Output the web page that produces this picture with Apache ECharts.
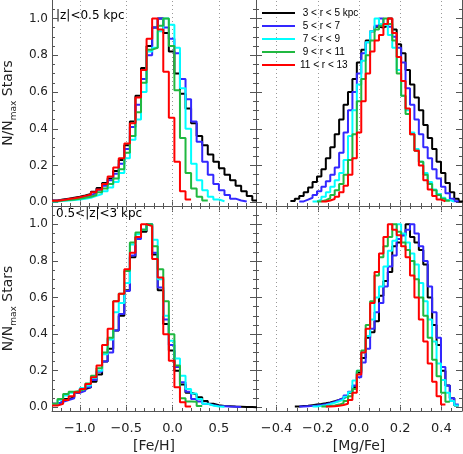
<!DOCTYPE html>
<html>
<head>
<meta charset="utf-8">
<script src="https://cdn.jsdelivr.net/npm/echarts@6/dist/echarts.min.js"></script>
<style>
html, body { margin: 0; padding: 0; background: #fff; }
#main { width: 463px; height: 454px; }
</style>
</head>
<body>
<div id="main"></div>
<script>
// radial bins (one line each)
var radiusNames = ['3 < r < 5 kpc', '5 < r < 7', '7 < r < 9', '9 < r < 11', '11 < r < 13'];
var zoneLabels = ['|z|<0.5 kpc', '0.5<|z|<3 kpc'];

// histogram bins: left edge of first bin and bin width
var fehBinStart = -1.3, fehBinWidth = 0.06;
var mgfeBinStart = -0.333, mgfeBinWidth = 0.0215;

// tick values
var fehTicks = [-1.0, -0.5, 0.0, 0.5];
var fehMinorTicks = [-1.2, -1.1, -1.0, -0.9, -0.8, -0.7, -0.6, -0.5, -0.4, -0.3, -0.2, -0.1, 0.0, 0.1, 0.2, 0.3, 0.4, 0.5, 0.6, 0.7, 0.8];
var mgfeTicks = [-0.4, -0.2, 0.0, 0.2, 0.4];
var mgfeMinorTicks = [-0.45, -0.4, -0.35, -0.3, -0.25, -0.2, -0.15, -0.1, -0.05, 0.0, 0.05, 0.1, 0.15, 0.2, 0.25, 0.3, 0.35, 0.4, 0.45];
var fracTicks = [0.0, 0.2, 0.4, 0.6, 0.8, 1.0];
var fracMinorTicks = [0.0, 0.05, 0.1, 0.15, 0.2, 0.25, 0.3, 0.35, 0.4, 0.45, 0.5, 0.55, 0.6, 0.65, 0.7, 0.75, 0.8, 0.85, 0.9, 0.95, 1.0, 1.05];

// [Fe/H], |z|<0.5 kpc
var fehNear3 = [0.01,0.015,0.02,0.025,0.03,0.037,0.045,0.058,0.078,0.105,0.13,0.17,0.23,0.31,0.44,0.58,0.73,0.85,0.95,1.0,0.92,0.82,0.70,0.59,0.51,0.43,0.36,0.31,0.26,0.22,0.185,0.15,0.12,0.09,0.06,0.035,0.01];
var fehNear5 = [0.008,0.012,0.015,0.02,0.025,0.03,0.04,0.05,0.068,0.09,0.12,0.155,0.21,0.29,0.41,0.53,0.67,0.80,0.95,1.0,0.95,0.89,0.81,0.67,0.56,0.44,0.33,0.22,0.15,0.10,0.065,0.04,0.02,0.01,0.005];
var fehNear7 = [0.005,0.008,0.01,0.012,0.015,0.02,0.025,0.035,0.045,0.06,0.08,0.11,0.16,0.24,0.34,0.45,0.60,0.82,0.84,0.93,1.0,0.965,0.84,0.62,0.40,0.21,0.12,0.065,0.03,0.015,0.006];
var fehNear9 = [0.006,0.01,0.012,0.015,0.02,0.025,0.03,0.04,0.055,0.075,0.10,0.13,0.18,0.27,0.36,0.49,0.65,0.83,0.84,0.96,1.0,0.85,0.61,0.35,0.16,0.075,0.03,0.01];
var fehNear11 = [0.008,0.012,0.018,0.022,0.028,0.035,0.042,0.055,0.07,0.10,0.14,0.19,0.24,0.32,0.43,0.57,0.72,0.89,1.0,0.94,0.71,0.46,0.22,0.06,0.015];

// [Mg/Fe], |z|<0.5 kpc
var mgfeNear3 = [0.007,0.02,0.035,0.055,0.08,0.11,0.14,0.18,0.24,0.30,0.37,0.45,0.53,0.60,0.67,0.76,0.83,0.88,0.93,0.955,0.95,0.96,1.0,0.94,0.86,0.81,0.72,0.64,0.57,0.50,0.42,0.35,0.29,0.22,0.16,0.105,0.055,0.02,0.005];
var mgfeNear5 = [null,null,0.005,0.015,0.025,0.04,0.06,0.085,0.115,0.15,0.19,0.27,0.38,0.5,0.6,0.70,0.81,0.87,0.93,0.96,1.0,0.97,0.955,0.90,0.84,0.76,0.62,0.53,0.45,0.37,0.30,0.24,0.18,0.13,0.085,0.05,0.02,0.006];
var mgfeNear7 = [null,null,null,null,null,0.005,0.015,0.03,0.055,0.085,0.12,0.16,0.23,0.36,0.5,0.64,0.77,0.87,0.93,1.0,0.97,0.96,0.91,0.84,0.72,0.58,0.50,0.38,0.29,0.22,0.16,0.11,0.07,0.045,0.025,0.012,0.004];
var mgfeNear9 = [null,null,null,null,null,null,0.005,0.012,0.022,0.04,0.065,0.1,0.15,0.23,0.37,0.55,0.67,0.8,0.88,0.94,0.96,1.0,0.97,0.88,0.70,0.58,0.48,0.37,0.28,0.22,0.15,0.10,0.065,0.04,0.02,0.008];
var mgfeNear11 = [null,null,null,null,null,null,null,0.005,0.01,0.018,0.03,0.055,0.09,0.15,0.24,0.38,0.55,0.70,0.82,0.88,0.91,0.97,1.0,0.92,0.79,0.66,0.51,0.37,0.28,0.20,0.12,0.07,0.035,0.015,0.005];

// [Fe/H], 0.5<|z|<3 kpc
var fehFar3 = [0.02,0.03,0.045,0.055,0.08,0.10,0.11,0.14,0.18,0.25,0.32,0.42,0.50,0.64,0.82,0.93,0.96,1.0,0.835,0.64,0.455,0.31,0.20,0.125,0.08,0.07,0.055,0.035,0.02,0.012,0.008,0.006,0.004,0.003,0.002,0.002,0.001];
var fehFar5 = [0.02,0.03,0.04,0.05,0.08,0.09,0.11,0.15,0.195,0.25,0.30,0.42,0.51,0.636,0.83,0.92,0.97,1.0,0.845,0.655,0.48,0.34,0.22,0.137,0.085,0.046,0.032,0.02,0.012,0.008,0.006,0.004,0.003,0.002];
var fehFar7 = [0.015,0.04,0.065,0.08,0.09,0.105,0.12,0.16,0.20,0.29,0.37,0.52,0.57,0.68,0.89,0.945,0.97,1.0,0.915,0.70,0.50,0.364,0.267,0.173,0.10,0.075,0.045,0.02,0.01,0.005,0.003];
var fehFar9 = [0.02,0.046,0.073,0.085,0.09,0.10,0.13,0.173,0.213,0.30,0.38,0.58,0.62,0.745,0.90,0.955,0.97,1.0,0.88,0.755,0.58,0.40,0.228,0.05,0.032,0.03,0.008];
var fehFar11 = [0.01,0.019,0.04,0.06,0.083,0.10,0.128,0.164,0.228,0.34,0.43,0.58,0.62,0.755,0.845,0.93,1.0,0.99,0.81,0.71,0.40,0.255,0.11,0.028,0.005];

// [Mg/Fe], 0.5<|z|<3 kpc
var mgfeFar3 = [null,0.004,0.007,0.009,0.012,0.015,0.018,0.022,0.027,0.033,0.04,0.05,0.06,0.08,0.11,0.19,0.27,0.38,0.41,0.47,0.61,0.69,0.74,0.88,0.90,0.94,1.0,0.93,0.90,0.86,0.78,0.60,0.45,0.34,0.20,0.12,0.05,0.01];
var mgfeFar5 = [null,null,0.004,0.006,0.008,0.01,0.013,0.017,0.022,0.03,0.04,0.05,0.065,0.085,0.12,0.165,0.245,0.32,0.43,0.52,0.57,0.66,0.77,0.83,0.92,0.94,0.97,1.0,0.95,0.88,0.80,0.66,0.52,0.38,0.22,0.12,0.05,0.015];
var mgfeFar7 = [null,null,null,null,null,0.004,0.008,0.012,0.018,0.025,0.033,0.042,0.058,0.083,0.146,0.2,0.30,0.39,0.48,0.60,0.66,0.77,0.855,0.91,1.0,0.95,0.90,0.84,0.78,0.68,0.58,0.48,0.36,0.24,0.15,0.08,0.035,0.01];
var mgfeFar9 = [null,null,null,null,null,null,null,0.004,0.007,0.01,0.015,0.022,0.035,0.06,0.10,0.20,0.31,0.45,0.58,0.72,0.82,0.88,0.93,1.0,0.96,0.90,0.86,0.80,0.70,0.60,0.50,0.38,0.26,0.17,0.08,0.03];
var mgfeFar11 = [null,null,null,null,null,null,null,null,0.004,0.006,0.009,0.013,0.02,0.04,0.08,0.18,0.30,0.43,0.57,0.74,0.84,0.93,1.0,0.97,0.94,0.88,0.82,0.72,0.60,0.48,0.36,0.24,0.14,0.06,0.015];

var FONT = '"DejaVu Sans", sans-serif';
var AXIS_COLOR = '#555';
var TEXT_COLOR = '#222';
var lineColors = ['#000000', '#3328ff', '#00ffff', '#20b840', '#ff0000'];

// histogram -> step points on bin edges (empty bins skipped)
function binPoints(values, start, width) {
    var pts = [];
    for (var i = 0; i < values.length; i++) {
        if (values[i] == null) continue;
        pts.push([start + width * i, values[i]]);
    }
    pts.push([start + width * values.length, values[values.length - 1]]);
    return pts;
}

function fmtX(v) {
    return (v < 0 ? '\u2212' : '') + Math.abs(v).toFixed(1);
}

var panels = [
    {grid: {left: 50, top: 0, width: 206, height: 206}, feh: true, bottom: false, left: true, lines: [fehNear3, fehNear5, fehNear7, fehNear9, fehNear11], label: zoneLabels[0]},
    {grid: {left: 256, top: 0, width: 206, height: 206}, feh: false, bottom: false, left: false, lines: [mgfeNear3, mgfeNear5, mgfeNear7, mgfeNear9, mgfeNear11]},
    {grid: {left: 50, top: 206, width: 206, height: 207}, feh: true, bottom: true, left: true, lines: [fehFar3, fehFar5, fehFar7, fehFar9, fehFar11], label: zoneLabels[1]},
    {grid: {left: 256, top: 206, width: 206, height: 207}, feh: false, bottom: true, left: false, lines: [mgfeFar3, mgfeFar5, mgfeFar7, mgfeFar9, mgfeFar11]}
];

var grids = [], xAxes = [], yAxes = [], series = [], graphics = [];

function tickAxis(g, pos, min, max, ticks, len, showLine) {
    return {
        type: 'value', gridIndex: g, position: pos, min: min, max: max,
        axisLine: {show: showLine, onZero: false, lineStyle: {color: AXIS_COLOR, width: 1}},
        axisTick: {show: true, inside: true, length: len, customValues: ticks, lineStyle: {color: AXIS_COLOR, width: 1}},
        axisLabel: {show: false},
        splitLine: {show: false}
    };
}

panels.forEach(function (p, g) {
    grids.push(p.grid);
    var xMin = p.feh ? -1.3 : -0.5, xMax = p.feh ? 0.9 : 0.5;
    var xMajor = p.feh ? fehTicks : mgfeTicks;
    var xMinor = p.feh ? fehMinorTicks : mgfeMinorTicks;

    var xi = xAxes.length;
    var xMain = tickAxis(g, 'bottom', xMin, xMax, xMajor, 6, true);
    if (p.bottom) {
        xMain.axisLabel = {show: true, customValues: xMajor, formatter: fmtX, margin: 11,
            fontSize: 13, fontFamily: FONT, color: TEXT_COLOR};
        xMain.name = p.feh ? '[Fe/H]' : '[Mg/Fe]';
        xMain.nameLocation = 'middle';
        xMain.nameGap = 28;
        xMain.nameTextStyle = {fontSize: 14, fontFamily: FONT, color: TEXT_COLOR};
    }
    xAxes.push(xMain);
    xAxes.push(tickAxis(g, 'bottom', xMin, xMax, xMinor, 3, false));
    if (p.bottom) {
        xAxes.push(tickAxis(g, 'top', xMin, xMax, xMajor, 6, true));
        xAxes.push(tickAxis(g, 'top', xMin, xMax, xMinor, 3, false));
    }

    var yi = yAxes.length;
    var yMain = tickAxis(g, 'left', -0.02, 1.1, fracTicks, 6, true);
    if (p.left) {
        yMain.axisLabel = {show: true, customValues: fracTicks, margin: 4,
            formatter: function (v) { return v.toFixed(1); },
            fontSize: 12, fontFamily: FONT, color: TEXT_COLOR};
        yMain.name = '{a|N/N}{b|max}{a| Stars}';
        yMain.nameLocation = 'middle';
        yMain.nameGap = 34;
        yMain.nameTextStyle = {rich: {
            a: {fontSize: 14, fontFamily: FONT, color: TEXT_COLOR, lineHeight: 20},
            b: {fontSize: 9, fontFamily: FONT, color: TEXT_COLOR, lineHeight: 12, verticalAlign: 'bottom'}
        }};
    }
    yAxes.push(yMain);
    yAxes.push(tickAxis(g, 'left', -0.02, 1.1, fracMinorTicks, 3, false));
    yAxes.push(tickAxis(g, 'right', -0.02, 1.1, fracTicks, 6, true));
    yAxes.push(tickAxis(g, 'right', -0.02, 1.1, fracMinorTicks, 3, false));

    // dotted grid lines at the labelled x values
    series.push({
        type: 'line', xAxisIndex: xi, yAxisIndex: yi, data: [], z: 1, silent: true,
        markLine: {
            silent: true, z: 1, symbol: ['none', 'none'], label: {show: false},
            lineStyle: {color: '#999', type: [1, 3], width: 1},
            emphasis: {disabled: true},
            data: xMajor.map(function (v) { return {xAxis: v}; })
        }
    });

    p.lines.forEach(function (vals, i) {
        series.push({
            name: radiusNames[i],
            type: 'line',
            step: 'end',
            xAxisIndex: xi,
            yAxisIndex: yi,
            symbol: 'none',
            z: 2 + i,
            color: lineColors[i],
            lineStyle: {color: lineColors[i], width: 2},
            data: binPoints(vals, p.feh ? fehBinStart : mgfeBinStart, p.feh ? fehBinWidth : mgfeBinWidth)
        });
    });

    if (p.label) {
        graphics.push({
            type: 'text', x: p.grid.left + 6, y: p.grid.top + (g === 0 ? 15.5 : 8),
            style: {text: p.label, fontSize: 12, fontFamily: FONT, fill: '#000', verticalAlign: 'middle'}
        });
    }
});

var myChart = echarts.init(document.getElementById('main'), null, {renderer: 'canvas'});
myChart.setOption({
    animation: false,
    backgroundColor: '#fff',
    grid: grids,
    xAxis: xAxes,
    yAxis: yAxes,
    legend: {
        data: radiusNames,
        orient: 'vertical',
        left: 262,
        top: 7,
        padding: 0,
        icon: 'rect',
        itemWidth: 33,
        itemHeight: 2,
        itemGap: 1,
        selectedMode: false,
        formatter: function (name) { return name.indexOf('11') === 0 ? name : ' ' + name; },
        textStyle: {fontFamily: '"Liberation Sans", sans-serif', fontSize: 10, color: '#000', lineHeight: 12}
    },
    graphic: graphics,
    series: series
});
</script>
</body>
</html>
